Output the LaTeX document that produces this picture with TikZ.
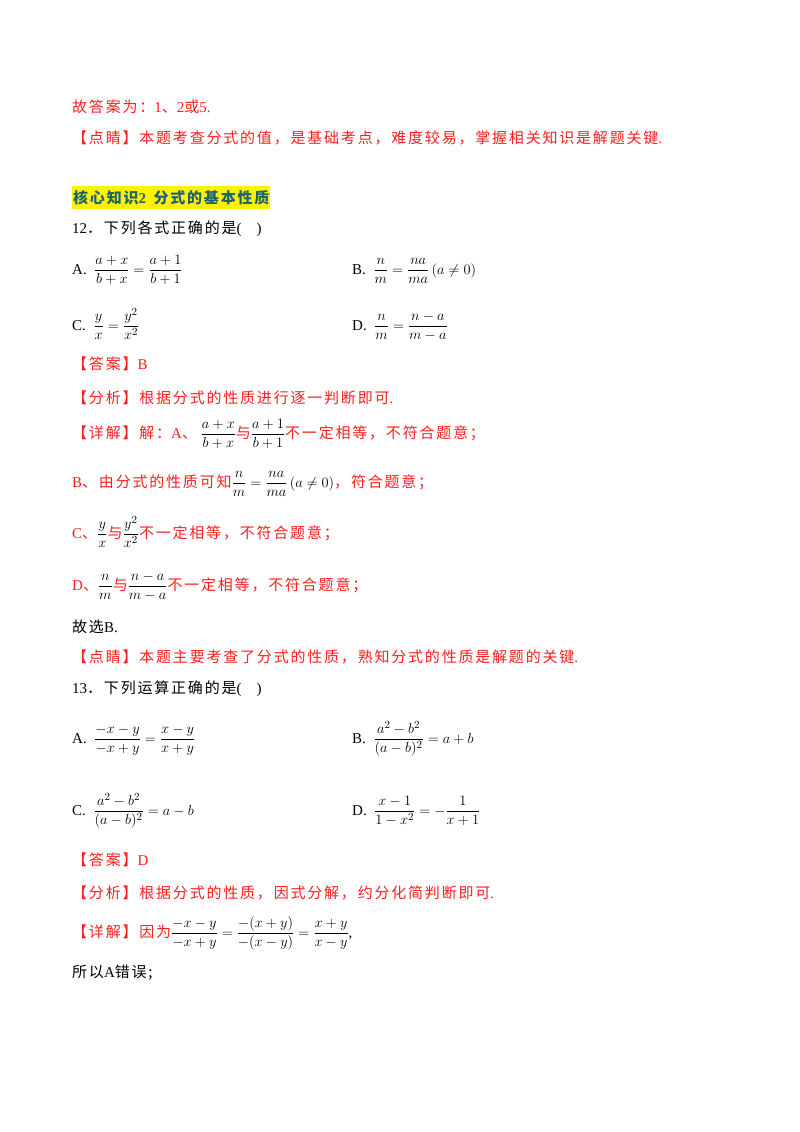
\documentclass[tikz,border=0pt]{standalone}
\usepackage{amsmath}
\usepackage{fontspec}
\setmainfont{Liberation Serif}
\newfontfamily\cjk[LetterSpace=12]{Noto Sans CJK SC}
\newcommand{\zh}[1]{{\cjk #1}}
\definecolor{rd}{RGB}{255,30,30}
\definecolor{hd}{RGB}{30,100,110}
\begin{document}
\begin{tikzpicture}[x=1pt,y=-1pt,
  t/.style={anchor=base west,inner sep=0pt,font=\fontsize{15}{17}\selectfont},
  r/.style={t,text=rd}]
\useasboundingbox[fill=white] (0,0) rectangle (800,1132);
\node[r] (l1) at (72,112) {\zh{故答案为：}1\zh{、}2\zh{或}5.};
\node[r] (l2) at (72,143) {\zh{【点睛】本题考查分式的值，是基础考点，难度较易，掌握相关知识是解题关键}.};
\fill[yellow] (72,186) rectangle (270,209);
\node[t,text=hd,font=\fontsize{15}{17}\selectfont\bfseries] (h) at (73,203) {\zh{\bfseries 核心知识}2\ \ \zh{\bfseries 分式的基本性质}};
\node[t] (q12) at (72,233) {12\zh{．下列各式正确的是}(\quad)};
\node[t] (a12) at (72,274) {A.\ \ $\dfrac{a+x}{b+x}=\dfrac{a+1}{b+1}$};
\node[t] (b12) at (352,274) {B.\ \ $\dfrac{n}{m}=\dfrac{na}{ma}\left(a\neq 0\right)$};
\node[t] (c12) at (72,330) {C.\ \ $\dfrac{y}{x}=\dfrac{y^2}{x^2}$};
\node[t] (d12) at (352,330) {D.\ \ $\dfrac{n}{m}=\dfrac{n-a}{m-a}$};
\node[r] (ans12) at (72,369) {\zh{【答案】}B};
\node[r] (fx12) at (72,403) {\zh{【分析】根据分式的性质进行逐一判断即可}.};
\node[r] (xj12) at (72,438) {\zh{【详解】解：}A\zh{、}\ \textcolor{black}{$\dfrac{a+x}{b+x}$}\zh{与}\textcolor{black}{$\dfrac{a+1}{b+1}$}\zh{不一定相等，不符合题意；}};
\node[r] (b12x) at (72,487) {B\zh{、由分式的性质可知}\textcolor{black}{$\dfrac{n}{m}=\dfrac{na}{ma}\left(a\neq 0\right)$}\zh{，符合题意；}};
\node[r] (c12x) at (72,538) {C\zh{、}\textcolor{black}{$\dfrac{y}{x}$}\zh{与}\textcolor{black}{$\dfrac{y^2}{x^2}$}\zh{不一定相等，不符合题意；}};
\node[r] (d12x) at (72,590) {D\zh{、}\textcolor{black}{$\dfrac{n}{m}$}\zh{与}\textcolor{black}{$\dfrac{n-a}{m-a}$}\zh{不一定相等，不符合题意；}};
\node[t] (gx) at (72,632) {\zh{故选}B.};
\node[r] (dj12) at (72,662) {\zh{【点睛】本题主要考查了分式的性质，熟知分式的性质是解题的关键}.};
\node[t] (q13) at (72,693) {13\zh{．下列运算正确的是}(\quad)};
\node[t] (a13) at (72,743) {A.\ \ $\dfrac{-x-y}{-x+y}=\dfrac{x-y}{x+y}$};
\node[t] (b13) at (352,743) {B.\ \ $\dfrac{a^2-b^2}{(a-b)^2}=a+b$};
\node[t] (c13) at (72,815) {C.\ \ $\dfrac{a^2-b^2}{(a-b)^2}=a-b$};
\node[t] (d13) at (352,815) {D.\ \ $\dfrac{x-1}{1-x^2}=-\dfrac{1}{x+1}$};
\node[r] (ans13) at (72,865) {\zh{【答案】}D};
\node[r] (fx13) at (72,898) {\zh{【分析】根据分式的性质，因式分解，约分化简判断即可}.};
\node[r] (xj13) at (72,937) {\zh{【详解】因为}\textcolor{black}{$\dfrac{-x-y}{-x+y}=\dfrac{-(x+y)}{-(x-y)}=\dfrac{x+y}{x-y}$}\textcolor{black}{,}};
\node[t] (sy) at (72,977) {\zh{所以}A\zh{错误}\zh{;}};
\end{tikzpicture}
\end{document}
